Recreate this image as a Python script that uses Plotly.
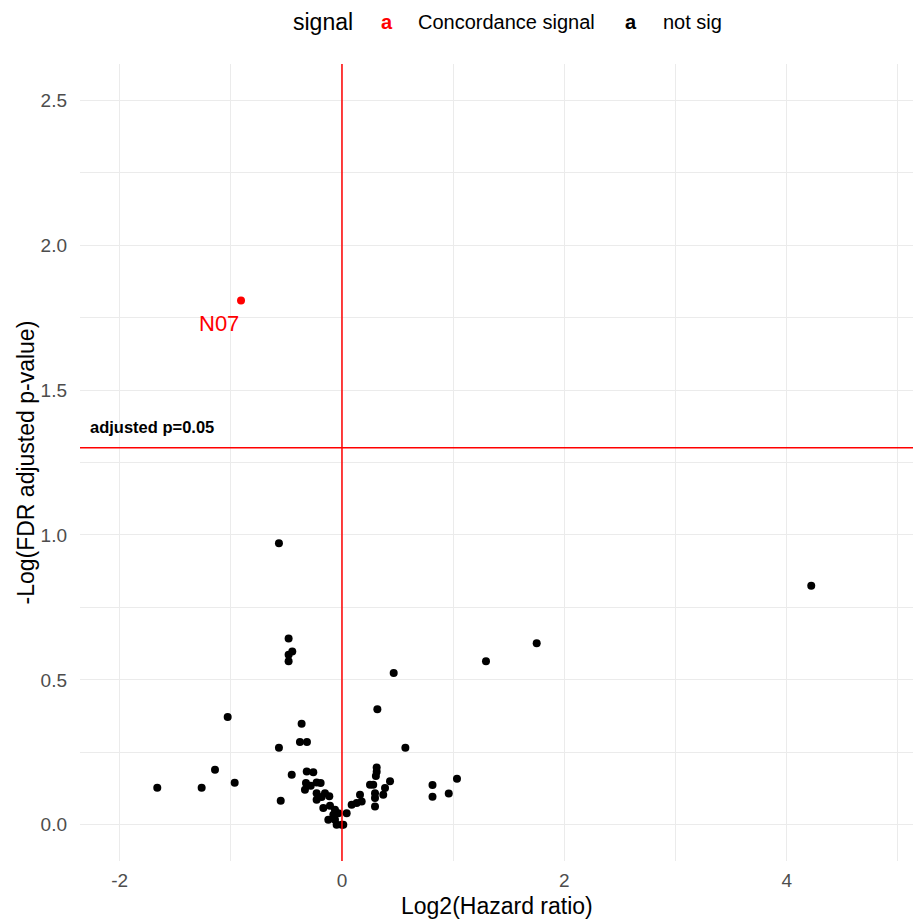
import math
import plotly.graph_objects as go

# ---- data ----
x_notsig = [-1.661, -1.262, -1.142, -1.028, -0.965,
            -0.567, -0.480, -0.447, -0.480, -0.480,
            -0.567, -0.551, -0.452, -0.363, -0.378, -0.315,
            -0.317, -0.258, -0.324, -0.281, -0.228, -0.192, -0.333, -0.228,
            -0.153, -0.228, -0.183, -0.114, -0.168, -0.108, -0.063, -0.078,
            -0.033, -0.123, -0.063, -0.048, -0.003, 0.012,
            0.042, 0.087, 0.132, 0.177, 0.162, 0.312, 0.312, 0.305, 0.281,
            0.252, 0.297, 0.297, 0.297, 0.387, 0.432, 0.371,
            0.465, 0.318, 0.570, 0.814, 0.814, 0.960, 1.034, 1.295, 1.751, 4.220]
y_notsig = [0.128, 0.128, 0.190, 0.372, 0.145,
            0.971, 0.643, 0.598, 0.587, 0.564,
            0.266, 0.083, 0.173, 0.349, 0.286, 0.286,
            0.184, 0.181, 0.144, 0.135, 0.146, 0.144, 0.121, 0.109,
            0.109, 0.086, 0.096, 0.098, 0.058, 0.066, 0.052, 0.035,
            0.040, 0.017, 0.017, 0.000, 0.000, 0.000,
            0.040, 0.069, 0.075, 0.080, 0.104, 0.198, 0.183, 0.168, 0.138,
            0.138, 0.109, 0.092, 0.063, 0.127, 0.150, 0.104,
            0.524, 0.399, 0.266, 0.137, 0.097, 0.108, 0.159, 0.564, 0.626, 0.825]
x_sig = [-0.908]
y_sig = [1.809]
label_sig = ["N07"]
p_cut = 0.05
y_cut = -math.log10(p_cut)

x_tickvals = [-2, 0, 2, 4]
x_ticktext = ["-2", "0", "2", "4"]
y_tickvals = [0.0, 0.5, 1.0, 1.5, 2.0, 2.5]
y_ticktext = ["0.0", "0.5", "1.0", "1.5", "2.0", "2.5"]

legend_title = "signal"
legend_names = ["Concordance signal", "not sig"]
legend_colors = ["#FF0000", "#000000"]

x_range = [-2.356, 5.144]
y_range = [-0.125, 2.625]

FONT = "Liberation Sans, Arial, sans-serif"
GRID = "#EBEBEB"

# page has an 8px body margin; size the figure to fit the 921x923 window
W, H = 913, 915
ML, MR, MT, MB = 72, 7, 56, 62

fig = go.Figure()
fig.add_trace(go.Scatter(x=x_notsig, y=y_notsig, mode="markers",
                         marker=dict(color="#000000", size=8),
                         name=legend_names[1], showlegend=False))
fig.add_trace(go.Scatter(x=x_sig, y=y_sig, mode="markers",
                         marker=dict(color="#FF0000", size=8),
                         name=legend_names[0], showlegend=False))

# reference lines
fig.add_shape(type="line", xref="x", yref="paper", x0=0, x1=0, y0=0, y1=1,
              line=dict(color="#FF0000", width=1.5))
fig.add_shape(type="line", xref="paper", yref="y", x0=0, x1=1, y0=y_cut, y1=y_cut,
              line=dict(color="#FF0000", width=1.5))

# point labels
for xs, ys, lab in zip(x_sig, y_sig, label_sig):
    fig.add_annotation(x=xs, y=ys, text=lab, showarrow=False, xshift=-22, yshift=-23,
                       font=dict(family=FONT, size=22, color="#FF0000"))

fig.add_annotation(x=-2.28, y=y_cut, text="<b>adjusted p=0.05</b>", showarrow=False,
                   xanchor="left", yanchor="middle", yshift=21,
                   font=dict(family=FONT, size=16.5, color="#000000"))

pw = W - ML - MR
ph = H - MT - MB

def px2paper_x(px):
    return (px - 8 - ML) / pw

def px2paper_y(py):
    return (H - MB + 8 - py) / ph

# axis titles
fig.add_annotation(xref="paper", yref="paper", x=0.5, y=px2paper_y(906), text="Log2(Hazard ratio)",
                   showarrow=False, xanchor="center", yanchor="middle",
                   font=dict(family=FONT, size=23, color="#000000"))
fig.add_annotation(xref="paper", yref="paper", x=px2paper_x(25), y=0.5,
                   text="-Log(FDR adjusted p-value)", textangle=-90,
                   showarrow=False, xanchor="center", yanchor="middle",
                   font=dict(family=FONT, size=23, color="#000000"))

# custom legend at top (ggplot-style text keys)
leg_y = px2paper_y(22)
fig.add_annotation(xref="paper", yref="paper", x=px2paper_x(291), y=leg_y, text=legend_title,
                   showarrow=False, xanchor="left", yanchor="middle",
                   font=dict(family=FONT, size=23, color="#000000"))
key_x = [379, 623]
lab_x = [416, 661]
for name, col, kx, lx in zip(legend_names, legend_colors, key_x, lab_x):
    fig.add_annotation(xref="paper", yref="paper", x=px2paper_x(kx), y=leg_y, text="<b>a</b>",
                       showarrow=False, xanchor="left", yanchor="middle",
                       font=dict(family=FONT, size=20, color=col))
    fig.add_annotation(xref="paper", yref="paper", x=px2paper_x(lx), y=leg_y, text=name,
                       showarrow=False, xanchor="left", yanchor="middle",
                       font=dict(family=FONT, size=20, color="#000000"))

fig.update_layout(
    width=W, height=H,
    margin=dict(l=ML, r=MR, t=MT, b=MB),
    paper_bgcolor="white", plot_bgcolor="white",
    showlegend=False,
    font=dict(family=FONT),
)
fig.update_xaxes(range=x_range, tickvals=x_tickvals, ticktext=x_ticktext,
                 showgrid=True, gridcolor=GRID, gridwidth=1.2,
                 zeroline=False, showline=False, ticks="",
                 tickfont=dict(family=FONT, size=19, color="#4D4D4D"),
                 ticklabelstandoff=6,
                 minor=dict(tickvals=[-1, 1, 3, 5], showgrid=True, gridcolor=GRID, gridwidth=1))
fig.update_yaxes(range=y_range, tickvals=y_tickvals, ticktext=y_ticktext,
                 showgrid=True, gridcolor=GRID, gridwidth=1.2,
                 zeroline=False, showline=False, ticks="",
                 tickfont=dict(family=FONT, size=19, color="#4D4D4D"),
                 ticklabelstandoff=12,
                 minor=dict(tickvals=[0.25, 0.75, 1.25, 1.75, 2.25], showgrid=True,
                            gridcolor=GRID, gridwidth=1))

fig.write_html("out.html")
